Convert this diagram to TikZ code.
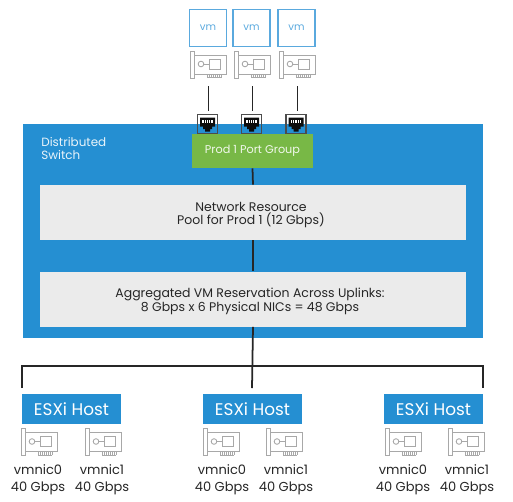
\documentclass[tikz,border=0pt]{standalone}
\usepackage{fontspec}
\setmainfont{Poppins}
\definecolor{dsblue}{HTML}{258FD2}
\definecolor{pggreen}{HTML}{78B846}
\definecolor{poolgrey}{HTML}{EBEBEB}
\definecolor{vmblue}{HTML}{5AA9DE}
\definecolor{nicgrey}{HTML}{A8A8A8}
\tikzset{
    vmbox/.style={draw=vmblue, line width=0.7pt, minimum width=0.74cm, minimum height=0.74cm, inner sep=0pt, text=vmblue, font=\fontsize{5.8}{6}\selectfont},
    poolbox/.style={fill=poolgrey, draw=none, minimum width=8.52cm, minimum height=1.1cm, inner sep=0pt},
    pooltext/.style={align=center, inner sep=0pt, font=\fontsize{7.1}{7.3}\selectfont, text=black!85},
    hostbox/.style={fill=dsblue, minimum width=1.98cm, minimum height=0.6cm, inner sep=0pt, text=white, font=\fontsize{9.6}{10}\selectfont},
    nictext/.style={align=center, inner sep=0pt, text=black!85, font=\fontsize{7.4}{9.6}\selectfont},
    link/.style={black!85, line width=0.5pt},
    bus/.style={black!85, line width=1pt},
    pics/nicard/.style={code={
            \draw[nicgrey, line width=0.5pt] (-18,-13.5) rectangle (-14,13.5);
            \draw[nicgrey, line width=0.5pt] (-14,-9.5) -- (18,-9.5) -- (18,9.5) -- (-14,9.5);
            \draw[nicgrey, line width=0.5pt] (-7,-0.5) circle (2.8);
            \draw[nicgrey, line width=0.5pt] (-4.2,-0.5) -- (1,-0.5);
            \draw[nicgrey, line width=0.5pt] (1,-5.5) rectangle (12,4.5);
            \foreach \t in {-1,1,...,13} {
                    \draw[nicgrey, line width=0.4pt] (\t,9.5) -- (\t,13);
                }
            \draw[nicgrey, line width=0.4pt] (-1,13) -- (13,13);
        }},
    pics/rjport/.style={code={
            \fill[black!95] (-7.5,-6.5) -- (7.5,-6.5) -- (7.5,2.5) -- (4.5,2.5) -- (4.5,5) -- (2.5,5) -- (2.5,7.5) -- (-2.5,7.5) -- (-2.5,5) -- (-4.5,5) -- (-4.5,2.5) -- (-7.5,2.5) -- cycle;
            \foreach \t in {-4.5,-2.25,0,2.25,4.5} {
                    \fill[white] (\t-0.6,-4.5) rectangle (\t+0.6,-1);
                }
            \draw[black!70, line width=0.7pt] (-10,-9.5) rectangle (10,9.5);
        }}
}
\begin{document}
\begin{tikzpicture}[x=0.02cm, y=-0.02cm]
    \useasboundingbox (0,0) rectangle (513,501);

    %-- switch panel --
    \fill[dsblue] (23,124) rectangle (483,338);
    \node[anchor=north west, align=left, inner sep=0pt, text=white!90!dsblue, font=\fontsize{6.8}{7.4}\selectfont] (dslabel) at (41,137) {Distributed\\Switch};

    %-- boxes --
    \node[fill=pggreen, minimum width=2.42cm, minimum height=0.68cm, inner sep=0pt, text=white!90!pggreen, font=\fontsize{6.4}{7}\selectfont] (pg) at (252.5,151) {\raisebox{-0.5pt}{Prod 1 Port Group}};
    \node[poolbox] (pool) at (253,212.5) {};
    \node[poolbox] (agg) at (253,299) {};
    \node[pooltext] (poolText) at (251,215) {Network Resource\\Pool for Prod 1 (12 Gbps)};
    \node[pooltext] (aggText) at (250,301.5) {Aggregated VM Reservation Across Uplinks:\\8 Gbps x 6 Physical NICs = 48 Gbps};

    %-- vm column --
    \node[vmbox] (vmA) at (208,28) {vm};
    \node[vmbox] (vmB) at (251.5,28) {vm};
    \node[vmbox] (vmC) at (296.5,28) {vm};
    \foreach \x in {208,252,297} {
            \pic at (\x,64.5) {nicard};
        }
    \coordinate (topA) at (208,86);
    \coordinate (topB) at (252,86);
    \coordinate (topC) at (297,86);
    \pic at (207.5,124) {rjport};
    \pic at (251.5,124) {rjport};
    \pic at (296,124) {rjport};
    \coordinate (portA) at (208,111);
    \coordinate (portB) at (252,111);
    \coordinate (portC) at (297,111);
    \draw[link] (topA) -- (portA);
    \draw[link] (topB) -- (portB);
    \draw[link] (topC) -- (portC);

    %-- hosts --
    \node[hostbox] (hostA) at (71.5,409) {ESXi Host};
    \node[hostbox] (hostB) at (252.5,409) {ESXi Host};
    \node[hostbox] (hostC) at (433.5,409) {ESXi Host};

    %-- uplink bus --
    \coordinate (busL) at (22,366);
    \coordinate (busR) at (483,366);
    \coordinate (dropL) at (22,388);
    \coordinate (dropM) at (252,388);
    \coordinate (dropR) at (483,388);
    \draw[bus] (pg.south) -- (pool.north);
    \draw[bus] (pool.south) -- (agg.north);
    \draw[bus] (agg.south) -- (dropM);
    \draw[bus] (dropL) -- (busL) -- (busR) -- (dropR);

    %-- physical nics --
    \foreach \x in {39,103,221,284,403,466} {
            \pic at (\x,442) {nicard};
        }
    \node[nictext] (vmnicA) at (38,480) {vmnic0\\40 Gbps};
    \node[nictext] (vmnicB) at (102,480) {vmnic1\\40 Gbps};
    \node[nictext] (vmnicC) at (222,480) {vmnic0\\40 Gbps};
    \node[nictext] (vmnicD) at (286,480) {vmnic1\\40 Gbps};
    \node[nictext] (vmnicE) at (403,480) {vmnic0\\40 Gbps};
    \node[nictext] (vmnicF) at (467,480) {vmnic1\\40 Gbps};

\end{tikzpicture}
\end{document}
